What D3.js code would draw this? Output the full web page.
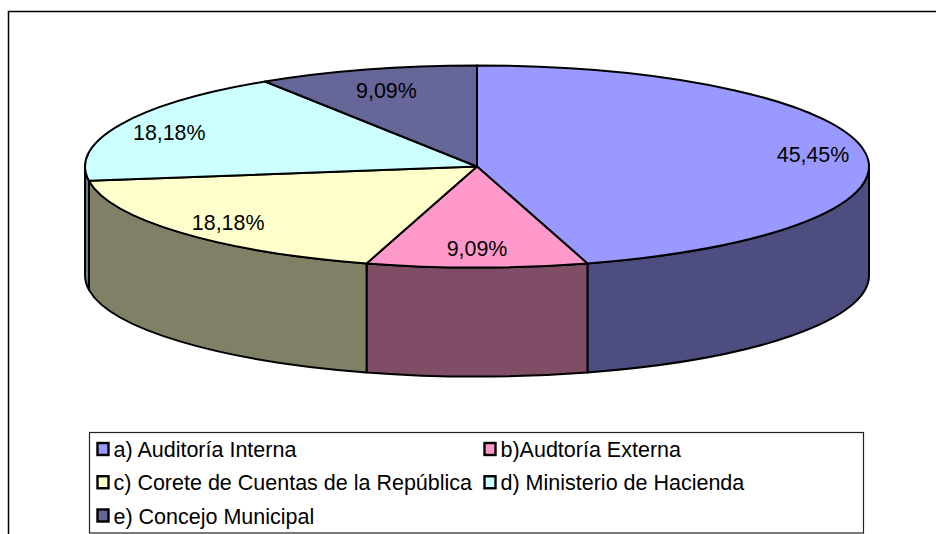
<!DOCTYPE html>
<html><head><meta charset="utf-8">
<script src="https://cdn.jsdelivr.net/npm/d3@7"></script>
<style>html,body{margin:0;padding:0;background:#fff;overflow:hidden}svg{display:block}text{font-family:"Liberation Sans",Arial,sans-serif;fill:#000}</style>
</head><body><script>
const categories = ["a) Auditoría Interna","b)Audtoría Externa","c) Corete de Cuentas de la República","d) Ministerio de Hacienda","e) Concejo Municipal"];
const shares = [45.45,9.09,18.18,18.18,9.09];
const shareLabels = ["45,45%","9,09%","18,18%","18,18%","9,09%"];
const topColors = ["#9999ff","#ff99cc","#ffffcc","#ccffff","#666699"];
const wallColors = ["#4d4d80","#804d66","#808066","#668080","#333350"];

const W=936,H=534,cx=477,cy=166.5,rx=392,ry=101,depth=109;
const labelReachX=[.866,.82,.84,.863,.82];
const labelReachY=[.866,.81,.85,.82,.79];
const svg=d3.select("body").append("svg").attr("width",W).attr("height",H);
svg.append("path").attr("d",`M8.5,${H}V11.5H${W}`).attr("fill","none").attr("stroke","#000").attr("stroke-width",1.5);

const slices=d3.pie().sort(null).value(d=>d)(shares);
const px=a=>cx+rx*Math.sin(a), py=a=>cy-ry*Math.cos(a);
const seg=(a,b,dy=0)=>{
  const sw=b>a?1:0, large=Math.abs(b-a)>Math.PI?1:0;
  return `A${rx},${ry} 0 ${large} ${sw} ${px(b)},${py(b)+dy}`;
};
const g=svg.append("g").attr("stroke","#000").attr("stroke-width",2).attr("stroke-linejoin","round");
slices.forEach((s,i)=>{
  const a=Math.max(s.startAngle,Math.PI/2), b=Math.min(s.endAngle,3*Math.PI/2);
  if(b<=a) return;
  g.append("path").attr("fill",wallColors[i])
   .attr("d",`M${px(a)},${py(a)}${seg(a,b)}V${py(b)+depth}${seg(b,a,depth)}Z`);
});
slices.forEach((s,i)=>{
  g.append("path").attr("fill",topColors[i])
   .attr("d",`M${cx},${cy}L${px(s.startAngle)},${py(s.startAngle)}${seg(s.startAngle,s.endAngle)}Z`);
});
slices.forEach((s,i)=>{
  const m=(s.startAngle+s.endAngle)/2;
  svg.append("text").attr("x",cx+rx*labelReachX[i]*Math.sin(m)).attr("y",cy-ry*labelReachY[i]*Math.cos(m)).attr("dy",".36em")
   .attr("text-anchor","middle").attr("font-size",21.4).text(shareLabels[i]);
});
svg.append("rect").attr("x",89.5).attr("y",432.5).attr("width",774).attr("height",100.5).attr("fill","#fff").attr("stroke","#222").attr("stroke-width",1.2);
const colX=d3.scaleOrdinal().domain([0,1]).range([97,484]);
const rowY=d3.scalePoint().domain([0,1,2]).range([449.5,516]);
categories.forEach((c,i)=>{
  const col=i%2,row=Math.floor(i/2);
  svg.append("rect").attr("x",colX(col)+.5).attr("y",rowY(row)-6.5).attr("width",11).attr("height",12)
    .attr("fill",topColors[i]).attr("stroke","#000").attr("stroke-width",2.4);
  svg.append("text").attr("x",colX(col)+16.5).attr("y",rowY(row)).attr("dy",".36em").attr("font-size",21.5).text(c);
});
</script></body></html>
